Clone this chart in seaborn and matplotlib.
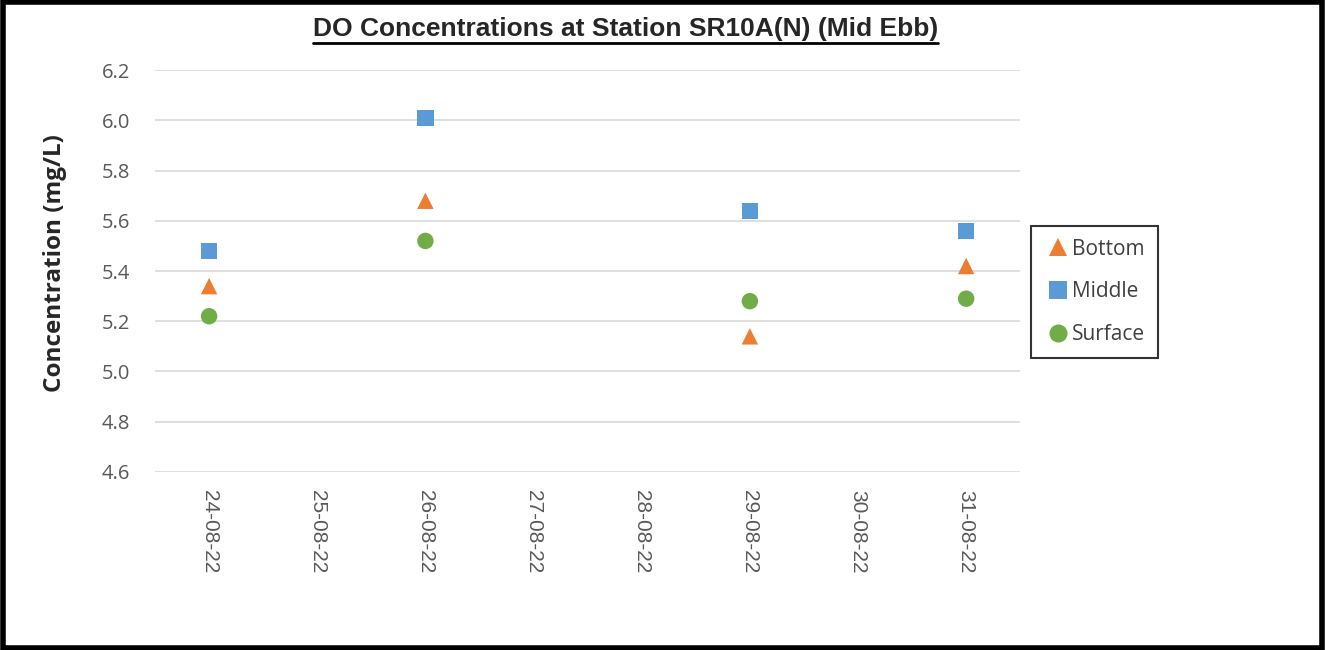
import matplotlib
matplotlib.use("Agg")
import matplotlib.pyplot as plt
import seaborn as sns
import pandas as pd
from matplotlib.lines import Line2D
from matplotlib.patches import Rectangle

# values
dates = ['24-08-22', '25-08-22', '26-08-22', '27-08-22', '28-08-22', '29-08-22', '30-08-22', '31-08-22']
sample_days = ['24-08-22', '26-08-22', '29-08-22', '31-08-22']
bottom = [5.34, 5.68, 5.14, 5.42]
middle = [5.48, 6.01, 5.64, 5.56]
surface = [5.22, 5.52, 5.28, 5.29]

rows = []
for name, vals in [('Bottom', bottom), ('Middle', middle), ('Surface', surface)]:
    for d, v in zip(sample_days, vals):
        rows.append({'day': dates.index(d), 'conc': v, 'depth': name})
df = pd.DataFrame(rows)

sns.set_style("white")
plt.rcParams['font.family'] = ['Open Sans', 'DejaVu Sans']

fig = plt.figure(figsize=(13.25, 6.5), dpi=100)
ax = fig.add_axes([0.117, 0.274, 0.653, 0.618])

palette = {'Bottom': '#ED7D31', 'Middle': '#5B9BD5', 'Surface': '#70AD47'}
markers = {'Bottom': '^', 'Middle': 's', 'Surface': 'o'}
sns.scatterplot(data=df, x='day', y='conc', hue='depth', style='depth',
                palette=palette, markers=markers, s=140, linewidth=0, ax=ax, zorder=3)

ax.set_xlim(-0.5, len(dates) - 0.5)
ax.set_ylim(4.6, 6.2)
ax.set_yticks([4.6, 4.8, 5.0, 5.2, 5.4, 5.6, 5.8, 6.0, 6.2])
ax.set_yticklabels(['%.1f' % t for t in ax.get_yticks()])
ax.set_xticks(range(len(dates)))
ax.set_xticklabels(dates, rotation=270, family=['Liberation Sans', 'DejaVu Sans'], fontsize=15)
ax.tick_params(axis='y', labelsize=14.5, pad=18)
ax.tick_params(axis='x', pad=13)
ax.tick_params(axis='both', labelcolor='#595959', length=0)
ax.grid(axis='y', color='#d9d9d9', linewidth=1.2)
ax.set_axisbelow(True)
for sp in ax.spines.values():
    sp.set_visible(False)
ax.set_xlabel('')
ax.set_ylabel('Concentration (mg/L)', fontsize=17.5, fontweight='bold')
ax.yaxis.set_label_coords(-0.102, 0.52)

leg = ax.legend(loc='center left', bbox_to_anchor=(1.013, 0.448), borderaxespad=0,
                fontsize=15, frameon=True, fancybox=False, edgecolor='black',
                markerscale=1.1, handletextpad=0.05, labelspacing=1.05, borderpad=0.6,
                handlelength=1.3)
leg.get_frame().set_linewidth(1.5)
for t in leg.get_texts():
    t.set_color('#404040')

title = fig.text(0.472, 0.955, 'DO Concentrations at Station SR10A(N) (Mid Ebb)',
                 ha='center', va='center', fontsize=19, fontweight='bold',
                 family=['Liberation Sans', 'DejaVu Sans'])

# underline the title
fig.canvas.draw()
bb = title.get_window_extent().transformed(fig.transFigure.inverted())
fig.add_artist(Line2D([bb.x0, bb.x1], [bb.y0 - 0.002, bb.y0 - 0.002], color='black',
                      linewidth=2, transform=fig.transFigure))

# outer border
fig.add_artist(Rectangle((0.002, 0.003), 0.996, 0.994, fill=False, edgecolor='black',
                         linewidth=4, transform=fig.transFigure))

fig.savefig('out.png', dpi=100)
